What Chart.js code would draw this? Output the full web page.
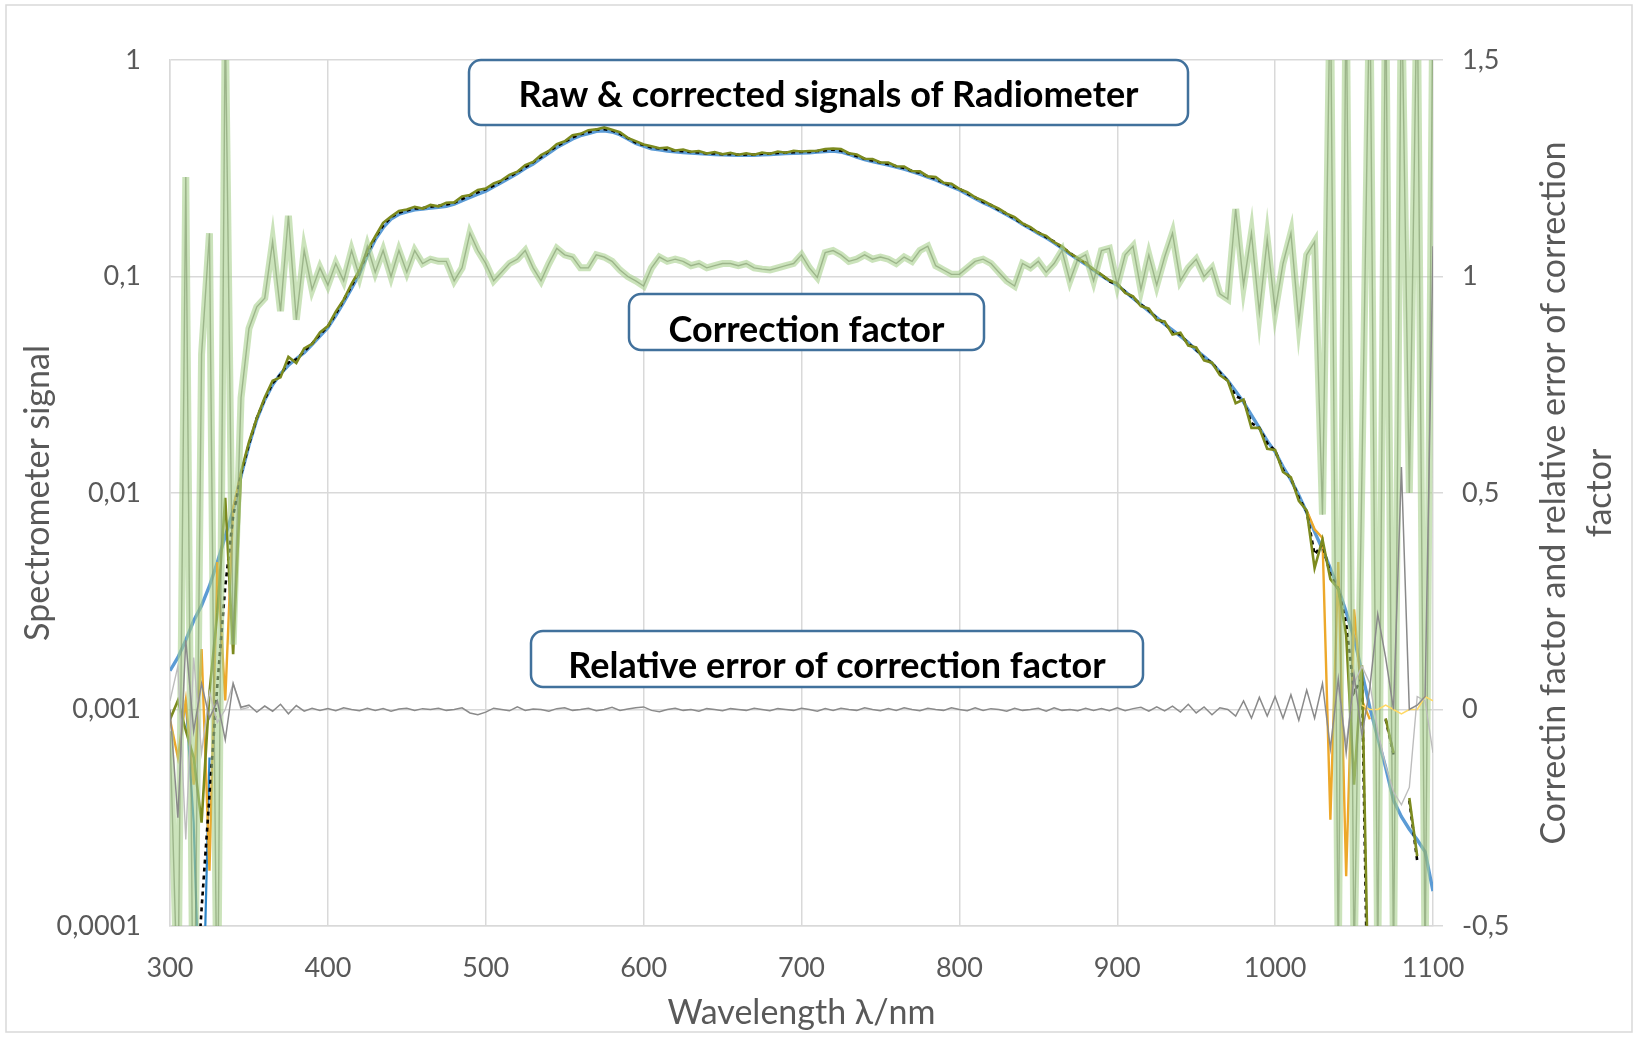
<!DOCTYPE html>
<html>
<head>
<meta charset="utf-8">
<script src="https://cdn.jsdelivr.net/npm/chart.js@4.4.1/dist/chart.umd.min.js"></script>
<style>
  html, body { margin: 0; padding: 0; background: #fff; }
  #wrap { width: 1638px; height: 1038px; position: relative; }
</style>
</head>
<body>
<div id="wrap"><canvas id="spec" width="1638" height="1038"></canvas></div>
<script>
// wavelength grid, nm
var wl = [
  300, 305, 310, 315, 320, 325, 330, 335, 340, 345, 350, 355, 360, 365, 370, 375, 380, 385, 390, 395,
  400, 405, 410, 415, 420, 425, 430, 435, 440, 445, 450, 455, 460, 465, 470, 475, 480, 485, 490, 495,
  500, 505, 510, 515, 520, 525, 530, 535, 540, 545, 550, 555, 560, 565, 570, 575, 580, 585, 590, 595,
  600, 605, 610, 615, 620, 625, 630, 635, 640, 645, 650, 655, 660, 665, 670, 675, 680, 685, 690, 695,
  700, 705, 710, 715, 720, 725, 730, 735, 740, 745, 750, 755, 760, 765, 770, 775, 780, 785, 790, 795,
  800, 805, 810, 815, 820, 825, 830, 835, 840, 845, 850, 855, 860, 865, 870, 875, 880, 885, 890, 895,
  900, 905, 910, 915, 920, 925, 930, 935, 940, 945, 950, 955, 960, 965, 970, 975, 980, 985, 990, 995,
  1000, 1005, 1010, 1015, 1020, 1025, 1030, 1035, 1040, 1045, 1050, 1055, 1060, 1065, 1070, 1075, 1080, 1085, 1090, 1095,
  1100
];

// corrected signal (smooth, blue)
var sigSmooth = [
  0.00151, 0.00174, 0.00209, 0.00257, 0.00302, 0.00372, 0.00479, 0.00631, 0.00832, 0.0120,
  0.0166, 0.0219, 0.0269, 0.0316, 0.0355, 0.0389, 0.0417, 0.0445, 0.0485, 0.0530,
  0.058, 0.066, 0.076, 0.088, 0.103, 0.125, 0.148, 0.168, 0.184, 0.194,
  0.199, 0.203, 0.205, 0.207, 0.209, 0.211, 0.216, 0.224, 0.232, 0.240,
  0.248, 0.260, 0.272, 0.285, 0.299, 0.316, 0.331, 0.351, 0.372, 0.394,
  0.412, 0.432, 0.447, 0.457, 0.468, 0.471, 0.465, 0.452, 0.432, 0.412,
  0.400, 0.389, 0.385, 0.380, 0.377, 0.374, 0.372, 0.370, 0.368, 0.366,
  0.365, 0.364, 0.363, 0.363, 0.363, 0.365, 0.366, 0.368, 0.370, 0.371,
  0.372, 0.373, 0.376, 0.378, 0.380, 0.376, 0.367, 0.356, 0.347, 0.339,
  0.333, 0.327, 0.320, 0.313, 0.305, 0.297, 0.288, 0.279, 0.269, 0.260,
  0.251, 0.240, 0.229, 0.219, 0.211, 0.202, 0.193, 0.184, 0.174, 0.166,
  0.158, 0.151, 0.143, 0.135, 0.127, 0.120, 0.114, 0.107, 0.101, 0.0955,
  0.0912, 0.0851, 0.0794, 0.0741, 0.0692, 0.0646, 0.0603, 0.0565, 0.0530, 0.0495,
  0.0457, 0.0427, 0.0398, 0.0363, 0.0331, 0.0295, 0.0263, 0.0229, 0.0200, 0.0174,
  0.0155, 0.0132, 0.0115, 0.00977, 0.00813, 0.00661, 0.00550, 0.00447, 0.00363, 0.00282,
  0.00214, 0.00148, 0.00102, 0.00074, 0.00054, 0.00038, 0.00032, 0.00028, 0.00025, 0.00022,
  0.000145
];

// raw signal (noisy, olive)
var sigNoisy = [
  0.0009, 0.0011, 0.0008, 0.0006, 0.0003, 0.0012, 0.0028, 0.0095, 0.0018, 0.0125,
  0.0172, 0.0222, 0.0276, 0.0330, 0.0342, 0.0425, 0.0398, 0.0465, 0.0488, 0.0552,
  0.0590, 0.0688, 0.0782, 0.0925, 0.107, 0.132, 0.153, 0.177, 0.189, 0.201,
  0.204, 0.210, 0.206, 0.214, 0.211, 0.219, 0.220, 0.234, 0.238, 0.251,
  0.255, 0.269, 0.278, 0.295, 0.305, 0.327, 0.338, 0.364, 0.380, 0.409,
  0.421, 0.449, 0.456, 0.474, 0.478, 0.488, 0.476, 0.464, 0.437, 0.422,
  0.407, 0.400, 0.391, 0.394, 0.382, 0.386, 0.377, 0.380, 0.370, 0.376,
  0.367, 0.373, 0.365, 0.371, 0.365, 0.374, 0.369, 0.378, 0.373, 0.381,
  0.378, 0.380, 0.381, 0.388, 0.390, 0.388, 0.371, 0.366, 0.350, 0.349,
  0.336, 0.336, 0.323, 0.322, 0.307, 0.306, 0.290, 0.288, 0.271, 0.268,
  0.254, 0.245, 0.232, 0.224, 0.214, 0.206, 0.195, 0.188, 0.176, 0.169,
  0.159, 0.154, 0.144, 0.138, 0.128, 0.122, 0.115, 0.108, 0.102, 0.096,
  0.093, 0.084, 0.081, 0.073, 0.071, 0.063, 0.062, 0.054, 0.055, 0.048,
  0.047, 0.041, 0.040, 0.035, 0.033, 0.026, 0.027, 0.020, 0.020, 0.016,
  0.0158, 0.0125, 0.0118, 0.0092, 0.0083, 0.0045, 0.0061, 0.0040, 0.0036, 0.0022,
  0.00045, 0.0016, 0.00002, null, 0.00091, 0.00063, null, 0.00039, 0.00021, null,
  null
];

// reference signal (black dashed)
var sigDashed = [
  null, null, null, 0.00003, 0.00012, 0.0004, 0.0013, 0.0037, 0.0078, 0.0122,
  0.0168, 0.0222, 0.0271, 0.0322, 0.0352, 0.0400, 0.0414, 0.0452, 0.0490, 0.0540,
  0.0588, 0.0672, 0.0780, 0.0905, 0.106, 0.128, 0.152, 0.172, 0.188, 0.197,
  0.202, 0.206, 0.207, 0.210, 0.212, 0.215, 0.219, 0.228, 0.237, 0.245,
  0.253, 0.263, 0.277, 0.289, 0.304, 0.320, 0.337, 0.356, 0.379, 0.400,
  0.419, 0.439, 0.454, 0.464, 0.476, 0.479, 0.472, 0.457, 0.436, 0.416,
  0.405, 0.394, 0.390, 0.386, 0.381, 0.379, 0.376, 0.374, 0.370, 0.370,
  0.367, 0.367, 0.365, 0.366, 0.365, 0.369, 0.369, 0.372, 0.373, 0.375,
  0.376, 0.376, 0.380, 0.382, 0.386, 0.381, 0.370, 0.360, 0.350, 0.343,
  0.336, 0.331, 0.323, 0.317, 0.307, 0.301, 0.290, 0.283, 0.271, 0.263,
  0.254, 0.242, 0.232, 0.221, 0.214, 0.203, 0.195, 0.185, 0.176, 0.167,
  0.160, 0.152, 0.145, 0.136, 0.129, 0.120, 0.116, 0.107, 0.102, 0.095,
  0.092, 0.085, 0.080, 0.074, 0.070, 0.064, 0.061, 0.055, 0.054, 0.049,
  0.046, 0.042, 0.040, 0.036, 0.033, 0.028, 0.027, 0.021, 0.020, 0.017,
  0.0157, 0.0128, 0.0117, 0.0095, 0.0082, 0.0052, 0.0058, 0.0042, 0.0036, 0.0025,
  0.0012, 0.0014, 0.00001, null, 0.0009, 0.00062, null, 0.00038, 0.0002, null,
  null
];

// correction factor (right axis)
var corrFactor = [
  -0.05, -0.7, 1.23, -0.9, 0.82, 1.10, -0.8, 1.6, 0.15, 0.72,
  0.88, 0.93, 0.95, 1.08, 0.92, 1.14, 0.90, 1.06, 0.97, 1.02,
  0.98, 1.03, 0.99, 1.06, 1.00, 1.07, 1.01, 1.06, 1.00, 1.06,
  1.01, 1.06, 1.03, 1.04, 1.035, 1.035, 0.99, 1.02, 1.10, 1.06,
  1.03, 0.99, 1.01, 1.03, 1.04, 1.06, 1.02, 0.99, 1.03, 1.065,
  1.05, 1.045, 1.02, 1.02, 1.05, 1.045, 1.035, 1.015, 1.00, 0.99,
  0.978, 1.02, 1.045, 1.035, 1.04, 1.035, 1.025, 1.03, 1.02, 1.025,
  1.03, 1.03, 1.025, 1.03, 1.02, 1.017, 1.015, 1.02, 1.025, 1.03,
  1.05, 1.02, 0.998, 1.055, 1.06, 1.05, 1.035, 1.04, 1.05, 1.04,
  1.045, 1.04, 1.03, 1.045, 1.035, 1.06, 1.07, 1.025, 1.015, 1.005,
  1.005, 1.02, 1.035, 1.04, 1.03, 1.01, 0.99, 0.978, 1.03, 1.02,
  1.035, 1.01, 1.03, 1.06, 0.99, 1.04, 1.05, 0.99, 1.06, 1.065,
  0.98, 1.05, 1.07, 0.97, 1.05, 0.98, 1.045, 1.10, 0.99, 1.02,
  1.04, 1.00, 1.02, 0.96, 0.948, 1.156, 0.98, 1.10, 0.917, 1.086,
  0.92, 1.03, 1.10, 0.894, 1.05, 1.08, 0.45, 1.7, -0.6, 1.7,
  -0.6, 0.55, 1.7, -0.6, 1.7, -0.6, 1.7, 0.5, 1.7, -0.6,
  1.7
];

// relative error of correction factor (right axis)
var relErr = [
  0.0, -0.25, 0.16, -0.05, 0.06, -0.02, 0.02, -0.07, 0.06, 0.005,
  0.01, -0.006, 0.008, -0.004, 0.012, -0.01, 0.009, -0.004, 0.003, -0.002,
  0.002, -0.003, 0.004, 0.0, -0.003, 0.003, -0.002, 0.002, -0.004, 0.001,
  0.003, -0.002, 0.002, 0.0, 0.003, -0.002, 0.0, 0.004, -0.008, -0.012,
  -0.006, 0.003, 0.0, -0.003, 0.006, -0.002, 0.001, 0.0, -0.004, 0.002,
  0.004, -0.002, 0.0, 0.003, -0.003, 0.0, 0.005, -0.002, 0.001, 0.004,
  0.006, -0.002, -0.005, 0.0, 0.003, -0.002, 0.0, -0.004, 0.002, 0.0,
  -0.003, 0.002, 0.0, -0.002, 0.003, 0.0, -0.003, 0.002, 0.0, -0.002,
  0.003, 0.0, -0.004, 0.002, -0.002, 0.003, 0.0, -0.002, 0.004, 0.0,
  -0.003, 0.002, -0.002, 0.004, 0.0, -0.003, 0.003, 0.0, -0.002, 0.004,
  0.0, -0.003, 0.004, -0.002, 0.002, 0.0, -0.004, 0.003, -0.002, 0.0,
  0.003, -0.004, 0.004, -0.002, 0.0, -0.003, 0.003, -0.002, 0.002, -0.003,
  0.004, -0.003, 0.002, 0.005, -0.004, 0.006, -0.003, 0.008, -0.006, 0.012,
  -0.008, 0.006, -0.012, 0.004, 0.0, -0.015, 0.02, -0.02, 0.028, -0.015,
  0.03, -0.02, 0.034, -0.025, 0.045, -0.02, 0.06, -0.09, 0.07, -0.1,
  0.08, -0.06, 0.05, 0.22, 0.12, 0.0, 0.56, 0.0, 0.01, 0.03,
  1.07
];

// second relative error trace, ends only (null = gap)
var errLightWl = [300, 305, 310, 315, 320, 325, 330, 335, 340, 345, 350, 700,
  1040, 1045, 1050, 1055, 1060, 1065, 1070, 1075, 1080, 1085, 1090, 1095, 1100];
var errLight = [0.02, 0.1, -0.3, 0.12, -0.1, 0.04, -0.03, 0.0, 0.06, 0.0, 0.005, null,
  0.05, -0.08, 0.06, 0.1, 0.06, -0.05, -0.13, -0.19, -0.22, -0.18, 0.03, 0.02, -0.1];

// gold raw signal, ends only
var goldWl = [300, 305, 310, 315, 320, 325, 330, 335, 340, 345, 700,
  1020, 1025, 1030, 1035, 1040, 1045, 1050, 1055, 1060];
var goldSig = [0.0009, 0.0006, 0.0011, 0.00045, 0.0019, 0.00018, 0.0048, 0.0011, 0.0085, 0.0125, null,
  0.0083, 0.0068, 0.0062, 0.00031, 0.0048, 0.00017, 0.0029, 0.0011, 0.0009];

// gold relative error near the right end
var goldErrWl = [1055, 1060, 1065, 1070, 1075, 1080, 1085, 1090, 1095, 1100];
var goldErr = [0.01, 0.0, 0.0, 0.01, 0.0, -0.01, 0.0, 0.0, 0.03, 0.02];

// raw blue dip at the UV end
var blueDipWl = [310, 315, 320, 325];
var blueDip = [0.0011, 0.0003, 0.00002, 0.0006];

var leftTicks = [0.0001, 0.001, 0.01, 0.1, 1];
var leftTickLabels = ['0,0001', '0,001', '0,01', '0,1', '1'];
var rightTickLabels = ['-0,5', '0', '0,5', '1', '1,5'];

var boxes = [
  { text: 'Raw & corrected signals of Radiometer', x: 469, y: 60, w: 719, h: 65, ty: 95 },
  { text: 'Correction factor', x: 629, y: 294, w: 355, h: 56, ty: 330 },
  { text: 'Relative error of correction factor', x: 531, y: 631, w: 612, h: 56, ty: 666 }
];

function pts(xs, ys) {
  return xs.map(function (x, i) { return { x: x, y: ys[i] }; });
}

var FONT = 'Lato, "Open Sans", sans-serif';
var GRID = '#D9D9D9';
var TXT = '#595959';

var decor = {
  id: 'decor',
  beforeDraw: function (chart) {
    var ctx = chart.ctx;
    ctx.save();
    ctx.fillStyle = '#fff';
    ctx.fillRect(0, 0, chart.width, chart.height);
    ctx.strokeStyle = GRID;
    ctx.lineWidth = 1.5;
    ctx.strokeRect(6, 5, 1626, 1027);
    ctx.restore();
  },
  afterDatasetsDraw: function (chart) {
    var ctx = chart.ctx;
    ctx.save();
    boxes.forEach(function (b) {
      ctx.beginPath();
      ctx.roundRect(b.x, b.y, b.w, b.h, 12);
      ctx.fillStyle = '#fff';
      ctx.fill();
      ctx.lineWidth = 2.5;
      ctx.strokeStyle = '#41719C';
      ctx.stroke();
      ctx.fillStyle = '#000';
      ctx.font = 'bold 36px ' + FONT;
      ctx.textAlign = 'center';
      ctx.textBaseline = 'middle';
      ctx.fillText(b.text, b.x + b.w / 2, b.ty);
    });
    // right axis title reads bottom-to-top like the left one
    ctx.fillStyle = TXT;
    ctx.font = '34px ' + FONT;
    ctx.textAlign = 'center';
    ctx.textBaseline = 'middle';
    var cy = (chart.chartArea.top + chart.chartArea.bottom) / 2;
    ctx.translate(1554, cy);
    ctx.rotate(-Math.PI / 2);
    ctx.fillText('Correctin factor and relative error of correction', 0, 0);
    ctx.fillText('factor', 0, 46);
    ctx.restore();
  }
};

function line(label, data, color, width, axis, extra) {
  var ds = {
    label: label,
    data: data,
    borderColor: color,
    borderWidth: width,
    pointRadius: 0,
    fill: false,
    tension: 0,
    spanGaps: false,
    clip: 0,
    yAxisID: axis
  };
  for (var k in extra) ds[k] = extra[k];
  return ds;
}

new Chart(document.getElementById('spec'), {
  type: 'line',
  data: {
    datasets: [
      line('Relative error', pts(wl, relErr), '#8A8A8A', 1.5, 'yR', { order: 1 }),
      line('Relative error 2', pts(errLightWl, errLight), '#BDBDBD', 1.4, 'yR', { order: 2 }),
      line('Relative error gold', pts(goldErrWl, goldErr), '#FFD966', 1.6, 'yR', { order: 3 }),
      line('Correction factor core', pts(wl, corrFactor), 'rgba(125,150,105,0.6)', 1.4, 'yR', { order: 4 }),
      line('Correction factor', pts(wl, corrFactor), 'rgba(169,209,142,0.6)', 7, 'yR', { order: 5 }),
      line('Raw signal', pts(wl, sigNoisy), '#7C8A1E', 2.6, 'yL', { order: 6 }),
      line('Reference signal', pts(wl, sigDashed), '#000000', 2.6, 'yL', { order: 7, borderDash: [4, 4] }),
      line('Raw signal gold', pts(goldWl, goldSig), '#EDA82A', 2.4, 'yL', { order: 8 }),
      line('Raw blue', pts(blueDipWl, blueDip), '#2E86C8', 2.2, 'yL', { order: 9 }),
      line('Corrected signal', pts(wl, sigSmooth), '#5B9BD5', 3.4, 'yL', { order: 10 })
    ]
  },
  options: {
    responsive: false,
    animation: false,
    events: [],
    layout: { padding: { top: 60, left: 0, right: 0, bottom: 0 } },
    plugins: { legend: { display: false }, tooltip: { enabled: false } },
    scales: {
      x: {
        type: 'linear',
        min: 300,
        max: 1100,
        ticks: {
          stepSize: 100,
          padding: 26,
          color: TXT,
          font: { family: FONT, size: 27 },
          callback: function (v) { return String(v); }
        },
        grid: { color: GRID, lineWidth: 1.5, drawTicks: false },
        border: { color: GRID, width: 1.5 },
        title: {
          display: true,
          text: 'Wavelength λ/nm',
          color: TXT,
          font: { family: FONT, size: 34, lineHeight: 1.2 },
          padding: { top: 0, bottom: 5 }
        },
        afterFit: function (s) { s.height = 112; }
      },
      yL: {
        type: 'logarithmic',
        position: 'left',
        min: 0.0001,
        max: 1,
        afterBuildTicks: function (s) {
          s.ticks = leftTicks.map(function (v) { return { value: v }; });
        },
        ticks: {
          padding: 29,
          color: TXT,
          font: { family: FONT, size: 27 },
          callback: function (v, i) { return leftTickLabels[i]; }
        },
        grid: { color: GRID, lineWidth: 1.5, drawTicks: false },
        border: { color: GRID, width: 1.5 },
        title: {
          display: true,
          text: 'Spectrometer signal',
          color: TXT,
          font: { family: FONT, size: 34, lineHeight: 1.2 },
          padding: { top: 18, bottom: 0 }
        },
        afterFit: function (s) { s.width = 170; }
      },
      yR: {
        type: 'linear',
        position: 'right',
        min: -0.5,
        max: 1.5,
        ticks: {
          stepSize: 0.5,
          padding: 19,
          color: TXT,
          font: { family: FONT, size: 27 },
          callback: function (v, i) { return rightTickLabels[i]; }
        },
        grid: { drawOnChartArea: false, drawTicks: true, tickLength: 10, tickColor: GRID, lineWidth: 1.5 },
        border: { display: false },
        afterFit: function (s) { s.width = 205; }
      }
    }
  },
  plugins: [decor]
});
</script>
</body>
</html>
